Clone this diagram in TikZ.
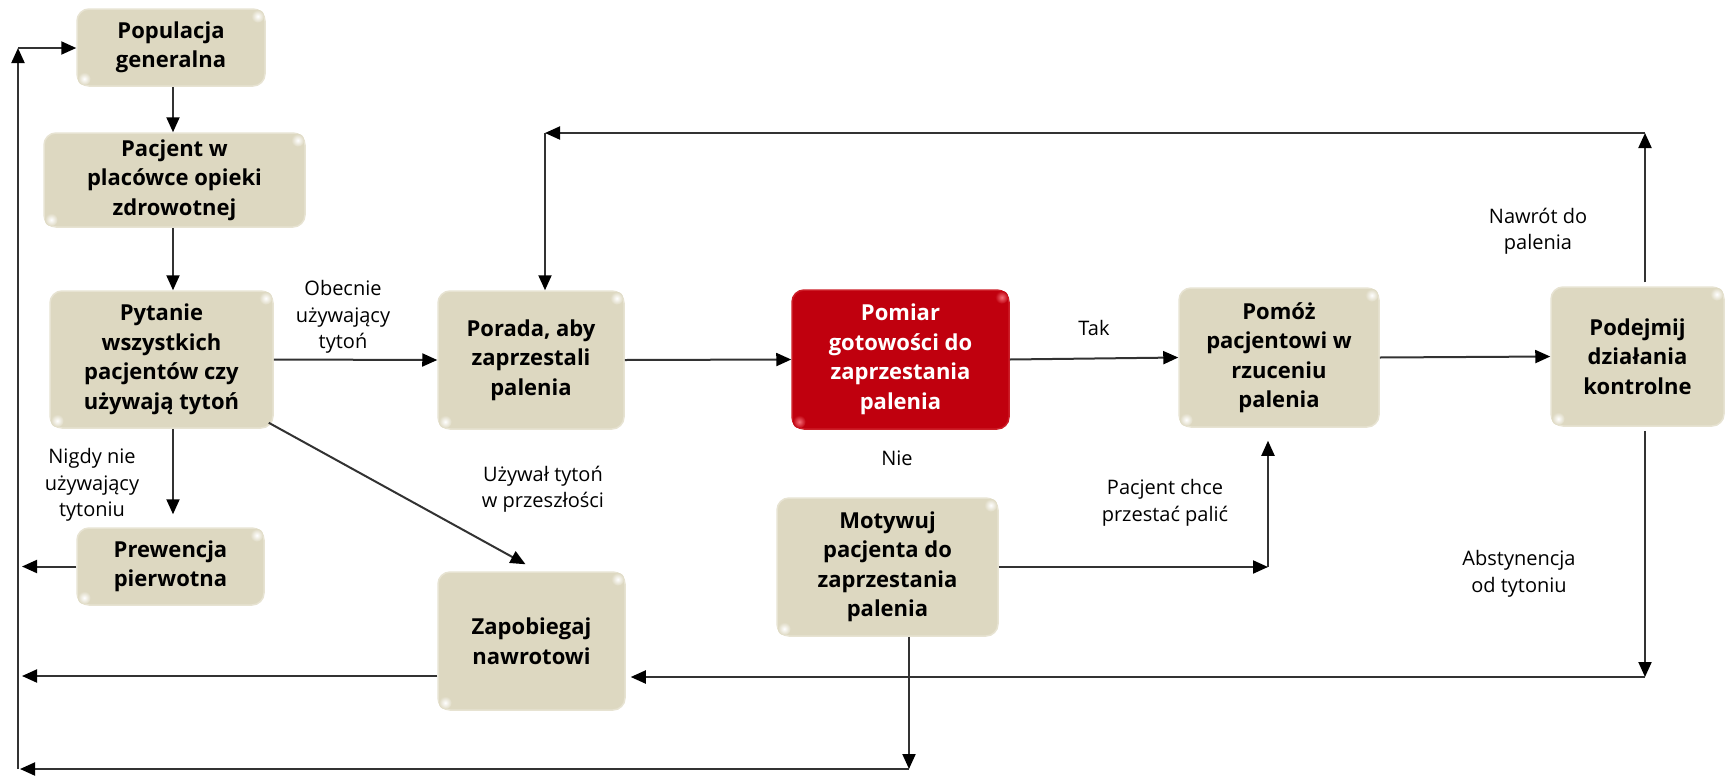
\documentclass[tikz,border=0pt]{standalone}
\usepackage{fontspec}
\setmainfont{Open Sans}
\usetikzlibrary{arrows.meta,calc}

\definecolor{boxfill}{RGB}{221,216,193}
\definecolor{boxrim}{RGB}{231,227,210}
\definecolor{alertfill}{RGB}{192,0,14}
\definecolor{alertrim}{RGB}{205,30,40}
\definecolor{alertglint}{RGB}{245,110,120}
\definecolor{wire}{RGB}{50,50,50}

\newcommand\nodefnt{\fontsize{22}{29.5}\selectfont\bfseries}
\newcommand\lblfnt{\fontsize{20}{26.5}\selectfont}

\begin{document}
\begin{tikzpicture}[x=1pt,y=-1pt,
  stepbox/.style={rounded corners=12pt, fill=boxfill, draw=boxrim, line width=1.5pt,
    align=center, inner sep=0pt, font=\nodefnt, text=black},
  alertbox/.style={rounded corners=12pt, fill=alertfill, draw=alertrim, line width=1.5pt,
    align=center, inner sep=0pt, font=\nodefnt, text=white},
  lbl/.style={align=center, inner sep=0pt, font=\lblfnt, text=black},
  arr/.style={draw=wire, line width=2pt, -{Triangle[length=15pt,width=13pt,color=black]}},
]
\useasboundingbox (0,0) rectangle (1726,782);

% process boxes
\node[stepbox, minimum width=188pt, minimum height=77pt] (pop) at (171,47.5) {Populacja\\generalna};
\node[stepbox, minimum width=261pt, minimum height=94pt] (pac) at (174.5,180) {Pacjent w\\placówce opieki\\zdrowotnej};
\node[stepbox, minimum width=223pt, minimum height=137pt] (pyt) at (161.5,359.5) {Pytanie\\wszystkich\\pacjentów czy\\używają tytoń};
\node[stepbox, minimum width=187pt, minimum height=77pt] (prew) at (170.5,566.5) {Prewencja\\pierwotna};
\node[stepbox, minimum width=186pt, minimum height=138pt] (por) at (531,360) {Porada, aby\\zaprzestali\\palenia};
\node[stepbox, minimum width=187pt, minimum height=138pt] (zap) at (531.5,641) {Zapobiegaj\\nawrotowi};
\node[alertbox, minimum width=217pt, minimum height=139pt] (pom) at (900.5,359.5) {Pomiar\\gotowości do\\zaprzestania\\palenia};
\node[stepbox, minimum width=221pt, minimum height=138pt] (mot) at (887.5,567) {Motywuj\\pacjenta do\\zaprzestania\\palenia};
\node[stepbox, minimum width=200pt, minimum height=139pt] (pmz) at (1279,357.5) {Pomóż\\pacjentowi w\\rzuceniu\\palenia};
\node[stepbox, minimum width=173pt, minimum height=139pt] (pdj) at (1637.5,356.5) {Podejmij\\działania\\kontrolne};

% soft corner highlights on the boxes
\foreach \n in {pop,pac,pyt,prew,por,zap,mot,pmz,pdj} {
  \shade[inner color=white, outer color=boxfill]
    ([shift={(-8pt,-8pt)}]\n.north east) circle (6.5pt);
  \shade[inner color=white, outer color=boxfill]
    ([shift={(8pt,8pt)}]\n.south west) circle (6.5pt);
}
\shade[inner color=alertglint, outer color=alertfill]
  ([shift={(-8pt,-8pt)}]pom.north east) circle (6.5pt);
\shade[inner color=alertglint, outer color=alertfill]
  ([shift={(8pt,8pt)}]pom.south west) circle (6.5pt);

% routing points
\coordinate (spine) at (173,0);
\coordinate (tr) at (1645,133);
\coordinate (tl) at (545,133);
\coordinate (br) at (1645,677);
\coordinate (lz) at (22,676);
\coordinate (bm) at (909,769);
\coordinate (bl) at (20,769);
\coordinate (ll) at (18,769);
\coordinate (lt) at (18,48);
\coordinate (mc) at (1268,567);

% connectors
\draw[arr] (pop.south -| spine) -- (pac.north -| spine);
\draw[arr] (pac.south -| spine) -- (pyt.north -| spine);
\draw[arr] (pyt.south -| spine) -- ($(prew.north -| spine)+(0,-13)$);
\draw[arr] (pyt.east) -- (por.west);
\draw[arr] ($(pyt.south east)+(-5,-6)$) -- ($(zap.north)+(-6,-7)$);
\draw[arr] (por.east) -- (pom.west);
\draw[arr] (pom.east) -- (pmz.west);
\draw[arr] (pmz.east) -- (pdj.west);

\draw[arr] ($(pdj.north -| tr)+(0,-4)$) -- (tr);
\draw[arr] (tr) -- (tl);
\draw[arr] (tl) -- (por.north -| tl);

\draw[arr] ($(pdj.south -| br)+(0,4)$) -- (br);
\draw[arr] (br) -- ($(zap.east |- br)+(5,0)$);

\draw[arr] (zap.west |- lz) -- (lz);
\draw[arr] (prew.west) -- (prew.west -| lz);

\draw[arr] (mot.south -| bm) -- (bm);
\draw[arr] (bm) -- (bl);
\draw[arr] (ll) -- (lt);
\draw[arr] (lt) -- (pop.west |- lt);

\draw[arr] (mot.east) -- (mc);
\draw[arr] (mc) -- ($(pmz.south -| mc)+(0,13)$);

% connector labels
\node[lbl] (l1) at (343,317) {Obecnie\\używający\\tytoń};
\node[lbl] (l2) at (543,489) {Używał tytoń\\w przeszłości};
\node[lbl] (l3) at (92,485) {Nigdy nie\\używający\\tytoniu};
\node[lbl] (l4) at (1094,328) {Tak};
\node[lbl] (l5) at (897,458) {Nie};
\node[lbl] (l6) at (1165,503) {Pacjent chce\\przestać palić};
\node[lbl] (l7) at (1538,231) {Nawrót do\\palenia};
\node[lbl] (l8) at (1519,574) {Abstynencja\\od tytoniu};
\end{tikzpicture}
\end{document}
